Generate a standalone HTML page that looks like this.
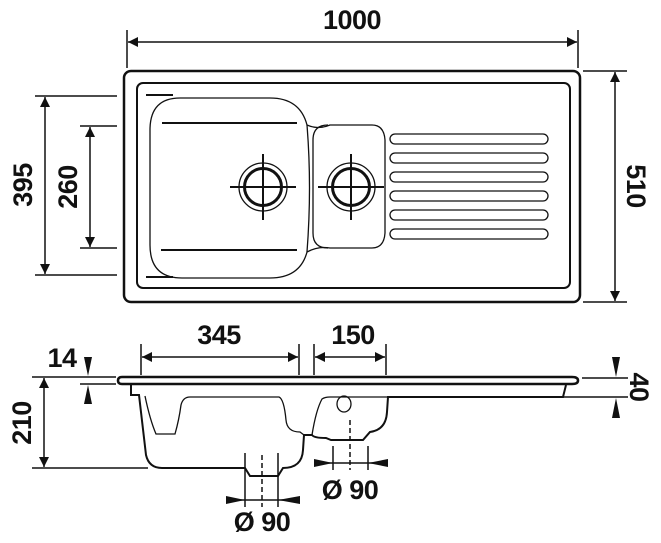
<!DOCTYPE html>
<html><head><meta charset="utf-8"><style>
html,body{margin:0;padding:0;background:#fff}
svg{display:block}
text{font-family:"Liberation Sans",sans-serif;font-weight:bold;font-size:27px;fill:#111;letter-spacing:-0.5px}
</style></head><body>
<svg width="661" height="543" viewBox="0 0 661 543" xmlns="http://www.w3.org/2000/svg">
<defs>
<marker id="a" viewBox="0 0 10 10" refX="10" refY="5" markerWidth="17" markerHeight="10" markerUnits="userSpaceOnUse" orient="auto-start-reverse"><path d="M0,0 L10,5 L0,10 z" fill="#111"/></marker>
</defs>
<g stroke="#111" fill="none">
<rect x="124" y="71" width="456" height="231" rx="7" stroke-width="2.5"/>
<rect x="137" y="83" width="433" height="205" rx="6" stroke-width="2"/>
<path d="M180,98 L270,98 Q300,98 307,125 Q318,130 330,125 L372,125 Q384,125 385,140 L385,233 Q384,248 372,248 L330,248 Q318,246 307,252 Q300,278 270,278 L182,278 Q150,278 150,245 L150,130 Q150,98 180,98 Z" stroke-width="1.3"/>
<path d="M307,125 Q312,187 307,252" stroke-width="1.3"/>
<path d="M313,140 Q313,125 328,125 M313,140 L313,233 Q313,248 328,248" stroke-width="1.3"/>
<g stroke-width="2">
<line x1="162" y1="123" x2="297" y2="123"/><line x1="161" y1="250" x2="297" y2="250"/>
<line x1="146" y1="95" x2="173" y2="95"/><line x1="146" y1="277" x2="173" y2="277"/>
</g>
<g stroke-width="1.3">
<rect x="390" y="134" width="158" height="10" rx="5"/>
<rect x="390" y="153" width="158" height="10" rx="5"/>
<rect x="390" y="172" width="158" height="10" rx="5"/>
<rect x="390" y="191" width="158" height="10" rx="5"/>
<rect x="390" y="210" width="158" height="10" rx="5"/>
<rect x="390" y="229" width="158" height="10" rx="5"/>
</g>
<circle cx="263" cy="187" r="24" stroke-width="1.3"/><circle cx="263" cy="187" r="18.5" stroke-width="3"/>
<line x1="230" y1="187" x2="296" y2="187" stroke-width="2"/><line x1="263" y1="154" x2="263" y2="220" stroke-width="2"/>
<circle cx="351" cy="187" r="24" stroke-width="1.3"/><circle cx="351" cy="187" r="18.5" stroke-width="3"/>
<line x1="318" y1="187" x2="384" y2="187" stroke-width="2"/><line x1="351" y1="154" x2="351" y2="220" stroke-width="2"/>
<g stroke-width="1.5">
<line x1="127" y1="30" x2="127" y2="68"/><line x1="578" y1="30" x2="578" y2="68"/>
<line x1="128" y1="42" x2="577" y2="42" marker-start="url(#a)" marker-end="url(#a)"/>
<line x1="35" y1="96" x2="117" y2="96"/><line x1="35" y1="275" x2="117" y2="275"/>
<line x1="45" y1="97" x2="45" y2="274" marker-start="url(#a)" marker-end="url(#a)"/>
<line x1="80" y1="126" x2="117" y2="126"/><line x1="80" y1="248" x2="117" y2="248"/>
<line x1="90" y1="127" x2="90" y2="247" marker-start="url(#a)" marker-end="url(#a)"/>
<line x1="583" y1="71" x2="627" y2="71"/><line x1="583" y1="302" x2="627" y2="302"/>
<line x1="615" y1="72" x2="615" y2="301" marker-start="url(#a)" marker-end="url(#a)"/>
</g>
<path d="M122,377 L572,377 Q578,377 578,380.5 Q578,384 572,384 L122,384 Q118,384 118,380.5 Q118,377 122,377 Z" stroke-width="2.5"/>
<path d="M131,385 L131,395 L139,395 Q143,430 146,455 Q149,468 162,468 L245,468 L250,476 L278,476 L283,468 Q302,468 303,450 L304,435 L312,435 Q314,438 326,438 L331,440 L363,440 L370,432 Q386,430 387,412 L388,397 L563,397 L566,385" stroke-width="2"/>
<path d="M145,396 Q150,420 156,434 L175,434 Q179,420 181,405 Q183,397 190,397 L279,397 Q284,399 286,420 Q287,432 300,432 L304,435" stroke-width="1.3"/>
<path d="M312,435 Q316,410 322,399 Q325,397 330,397 L388,397" stroke-width="1.3"/>
<ellipse cx="344" cy="404" rx="7" ry="8" stroke-width="1.3"/>
<g stroke-width="1.5">
<line x1="141" y1="344" x2="141" y2="375"/><line x1="299" y1="344" x2="299" y2="375"/>
<line x1="142" y1="357" x2="298" y2="357" marker-start="url(#a)" marker-end="url(#a)"/>
<line x1="314" y1="344" x2="314" y2="375"/><line x1="386" y1="344" x2="386" y2="375"/>
<line x1="315" y1="357" x2="385" y2="357" marker-start="url(#a)" marker-end="url(#a)"/>
<line x1="32" y1="377" x2="116" y2="377"/><line x1="80" y1="384" x2="116" y2="384"/>
<line x1="44" y1="378" x2="44" y2="467" marker-start="url(#a)" marker-end="url(#a)"/>
<line x1="32" y1="468" x2="148" y2="468"/>
<line x1="582" y1="378" x2="628" y2="378"/><line x1="562" y1="397" x2="628" y2="397"/>
<line x1="245" y1="453" x2="245" y2="507"/><line x1="278" y1="453" x2="278" y2="507"/>
<line x1="262" y1="455" x2="262" y2="507" stroke-dasharray="5,3"/>
<line x1="226" y1="500" x2="300" y2="500"/>
<line x1="333" y1="446" x2="333" y2="470"/><line x1="368" y1="446" x2="368" y2="470"/>
<line x1="350" y1="420" x2="350" y2="470" stroke-dasharray="5,3"/>
<line x1="314" y1="463" x2="388" y2="463"/>
</g>
</g>
<g fill="#111">
<path d="M84,357 L92,357 L88,376 Z"/><path d="M84,404 L92,404 L88,385 Z"/>
<path d="M612,357 L620,357 L616,377 Z"/><path d="M612,418 L620,418 L616,398 Z"/>
<path d="M226,496 L226,504 L245,500 Z"/><path d="M300,496 L300,504 L278,500 Z"/>
<path d="M314,459 L314,467 L333,463 Z"/><path d="M388,459 L388,467 L368,463 Z"/>
</g>
<text x="352" y="29" text-anchor="middle">1000</text>
<text transform="translate(32,185) rotate(-90)" text-anchor="middle">395</text>
<text transform="translate(77,187) rotate(-90)" text-anchor="middle">260</text>
<text transform="translate(627,186) rotate(90)" text-anchor="middle">510</text>
<text x="219" y="344" text-anchor="middle">345</text>
<text x="353" y="344" text-anchor="middle">150</text>
<text x="62" y="367" text-anchor="middle">14</text>
<text transform="translate(31,423) rotate(-90)" text-anchor="middle">210</text>
<text transform="translate(630,387) rotate(90)" text-anchor="middle">40</text>
<text x="262" y="531" text-anchor="middle">Ø 90</text>
<text x="350" y="499" text-anchor="middle">Ø 90</text>
</svg>
</body></html>
